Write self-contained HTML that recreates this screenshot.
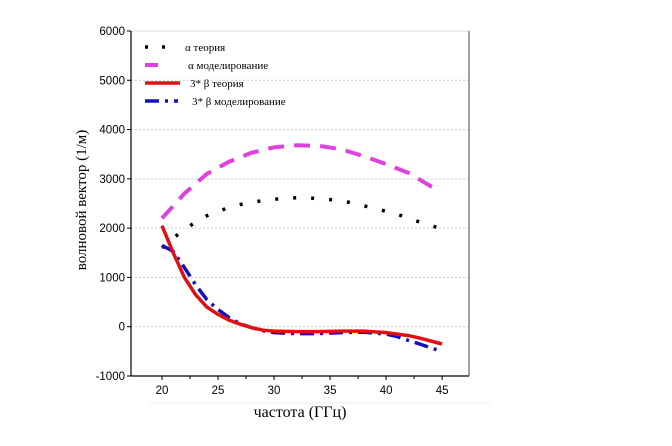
<!DOCTYPE html>
<html><head><meta charset="utf-8"><style>
body{margin:0;background:#fff;width:672px;height:446px;overflow:hidden}
svg{display:block}
text{font-family:"Liberation Sans",sans-serif}
.s{font-family:"Liberation Serif",serif}
</style></head><body>
<svg id="chart" width="672" height="446"></svg>
<script>
const yTicks=[-1000,0,1000,2000,3000,4000,5000,6000];
const xTicks=[20,25,30,35,40,45];
const alphaTheoryX=[20,21,22.5,24,25.5,27,29,31,32.5,34,36,37.5,39,41,42.5,44.5];
const alphaTheoryY=[1600,1800,2050,2250,2380,2480,2560,2610,2620,2600,2560,2480,2400,2280,2160,2020];
const alphaSimX=[20,22,24,26,28,30,32,34,36,38,40,42,44.5];
const alphaSimY=[2200,2700,3100,3350,3530,3640,3680,3670,3600,3460,3300,3120,2780];
const betaTheoryX=[20,21,22,23,24,25,26,27,28,29,30,32,34,36,38,40,42,43,45];
const betaTheoryY=[2050,1500,1000,650,400,250,130,50,-20,-70,-90,-100,-100,-90,-90,-120,-180,-230,-350];
const betaSimX=[20,21,22,23,24,25,26,27,28,29,30,32,34,36,38,40,41,42,43,44,45];
const betaSimY=[1650,1530,1200,850,550,350,180,60,-20,-80,-120,-140,-140,-120,-110,-150,-200,-280,-350,-430,-500];

const NS="http://www.w3.org/2000/svg";
const svg=document.getElementById('chart');
const L=131,R=469,T=31,B=376;
const X0=17.23,X1=47.4,Y0=-1000,Y1=6000;
const sx=v=>L+(v-X0)/(X1-X0)*(R-L);
const sy=v=>B-(v-Y0)/(Y1-Y0)*(B-T);
function mk(tag,attrs,parent){const e=document.createElementNS(NS,tag);for(const k in attrs)e.setAttribute(k,attrs[k]);(parent||svg).appendChild(e);return e;}

// gridlines
yTicks.forEach(v=>{if(v>-1000&&v<6000){const g=mk('line',{x1:L,x2:R,y1:sy(v),y2:sy(v),stroke:'#ccc','stroke-dasharray':'2,2','stroke-width':1});

}});
// frame
const fr=mk('rect',{x:L,y:T,width:R-L,height:B-T,fill:'none',stroke:'#ddd'});


mk('line',{x1:L,x2:L,y1:T,y2:B,stroke:'#000','stroke-width':1.2});
mk('line',{x1:L,x2:R,y1:B,y2:B,stroke:'#000','stroke-width':1.2});
mk('line',{x1:R,x2:R,y1:T,y2:B,stroke:'#444','stroke-width':1});
yTicks.forEach(v=>{
 mk('line',{x1:L-4,x2:L,y1:sy(v),y2:sy(v),stroke:'#000'});
 const t=mk('text',{x:L-6,y:sy(v)+4,'text-anchor':'end','font-size':11.5});t.textContent=v;
 
 
});
xTicks.forEach(v=>{
 mk('line',{x1:sx(v),x2:sx(v),y1:B,y2:B+4,stroke:'#000'});
 const t=mk('text',{x:sx(v),y:B+18,'text-anchor':'middle','font-size':11.5});t.textContent=v;
 
 
});
[22.5,27.5,32.5,37.5,42.5].forEach(v=>mk('line',{x1:sx(v),x2:sx(v),y1:B,y2:B+3,stroke:'#000'}));
mk('line',{x1:150,x2:490,y1:403,y2:403,stroke:'#eee'});
const xl=mk('text',{x:300,y:417,'text-anchor':'middle','font-size':16,class:'s'});xl.textContent='частота (ГГц)';


const yl=mk('text',{x:0,y:0,'text-anchor':'middle','font-size':15,class:'s',transform:'translate(86,200) rotate(-90)'});yl.textContent='волновой вектор (1/м)';



function path(xs,ys){return xs.map((x,i)=>(i?'L':'M')+sx(x).toFixed(1)+','+sy(ys[i]).toFixed(1)).join('');}
const s1=mk('path',{d:path(alphaTheoryX,alphaTheoryY),fill:'none',stroke:'#000','stroke-width':3.5,'stroke-dasharray':'3,15'});


const s2=mk('path',{d:path(alphaSimX,alphaSimY),fill:'none',stroke:'#e040e0','stroke-width':4,'stroke-dasharray':'16,10'});


const s4=mk('path',{d:path(betaSimX,betaSimY),fill:'none',stroke:'#1010c0','stroke-width':3.5,'stroke-dasharray':'14,6,3,6'});


const s3=mk('path',{d:path(betaTheoryX,betaTheoryY),fill:'none',stroke:'#e01010','stroke-width':3.5});



// legend
const lg=[['#000','3,14',3.5,'α теория',185],['#e040e0','16,10',4,'α моделирование',188],['#e01010','',3.5,'3* β теория',190],['#1010c0','14,6,3,6',3.5,'3* β моделирование',192]];
lg.forEach((l,i)=>{const y=47+i*18;
 const ln=mk('line',{x1:145,x2:i==0?173:(i==1?158:(i==2?180:178)),y1:y,y2:y,stroke:l[0],'stroke-width':l[2],'stroke-dasharray':l[1]});
 
 
 const t=mk('text',{x:l[4],y:y+4,'font-size':11,class:'s'});t.textContent=l[3];
 
 
});
</script>
</body></html>
